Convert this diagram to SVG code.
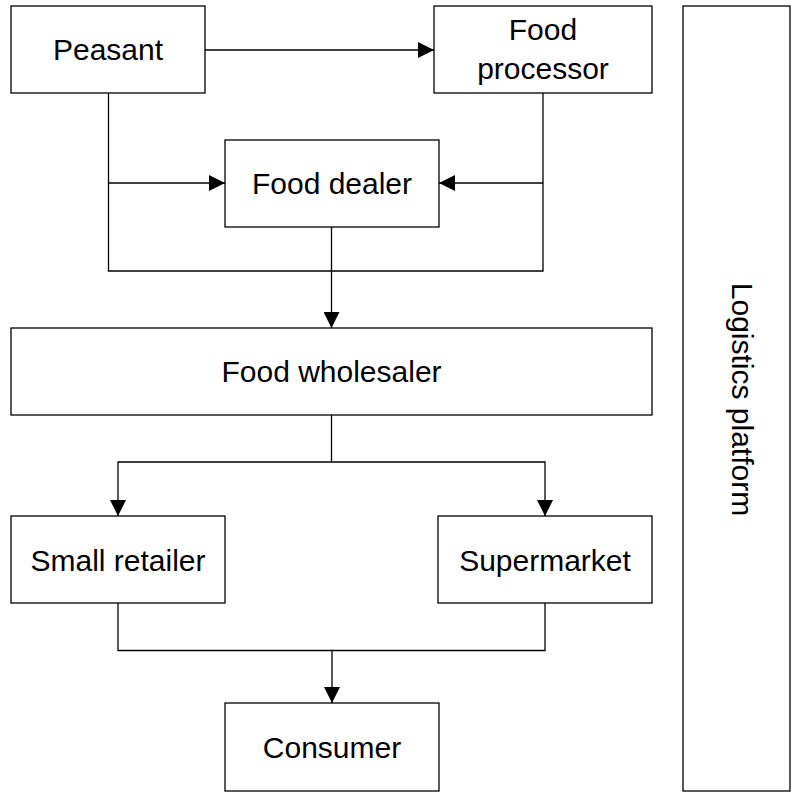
<svg xmlns="http://www.w3.org/2000/svg" width="791" height="794" viewBox="0 0 791 794">
<style>
.box{fill:#fff;stroke:#000;stroke-width:1.3}
.lbl{font-family:"Liberation Sans",Arial,sans-serif;font-size:30px;fill:#000;text-anchor:middle}
.con{fill:none;stroke:#000;stroke-width:1.3}
</style>
<defs>
<marker id="arr" markerUnits="userSpaceOnUse" markerWidth="16" markerHeight="16" viewBox="0 0 16 16" refX="16" refY="8" orient="auto">
<path d="M0,0 L16,8 L0,16 z" fill="#000"/>
</marker>
</defs>
<rect width="791" height="794" fill="#fff"/>
<g id="peasant"><rect class="box" x="11" y="6" width="194" height="87"/><text class="lbl" x="108" y="60">Peasant</text></g>
<g id="food-processor"><rect class="box" x="434" y="6" width="218" height="87"/><text class="lbl" x="543" y="40">Food</text><text class="lbl" x="543" y="79">processor</text></g>
<g id="food-dealer"><rect class="box" x="225" y="140" width="214" height="87"/><text class="lbl" x="332" y="194">Food dealer</text></g>
<g id="food-wholesaler"><rect class="box" x="11" y="328" width="641" height="87"/><text class="lbl" x="331.5" y="382">Food wholesaler</text></g>
<g id="small-retailer"><rect class="box" x="11" y="516" width="214" height="87"/><text class="lbl" x="118" y="571">Small retailer</text></g>
<g id="supermarket"><rect class="box" x="438" y="516" width="214" height="87"/><text class="lbl" x="545" y="571">Supermarket</text></g>
<g id="consumer"><rect class="box" x="225" y="703" width="214" height="88"/><text class="lbl" x="332" y="758">Consumer</text></g>
<g id="logistics-platform"><rect class="box" x="683" y="6" width="107" height="785"/><text class="lbl" transform="translate(731.5,399.5) rotate(90)">Logistics platform</text></g>
<g id="connectors">
<path class="con" d="M205,50 H434" marker-end="url(#arr)"/>
<path class="con" d="M108.5,93 V271 H331.5 V328" marker-end="url(#arr)"/>
<path class="con" d="M543,93 V271 H331.5"/>
<path class="con" d="M331.5,227 V271"/>
<path class="con" d="M108.5,183 H225" marker-end="url(#arr)"/>
<path class="con" d="M543,183 H439" marker-end="url(#arr)"/>
<path class="con" d="M331.5,415 V462 H118 V516" marker-end="url(#arr)"/>
<path class="con" d="M331.5,462 H545 V516" marker-end="url(#arr)"/>
<path class="con" d="M118,603 V650.5 H332 V703" marker-end="url(#arr)"/>
<path class="con" d="M545,603 V650.5 H332"/>
</g>
</svg>
